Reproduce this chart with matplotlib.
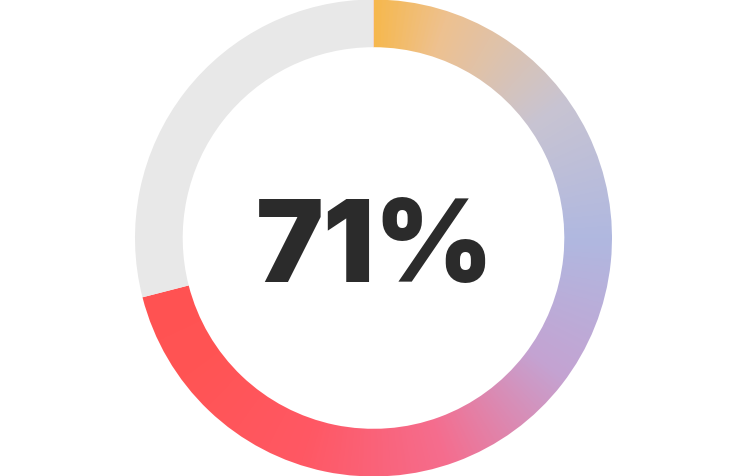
import numpy as np
import matplotlib
matplotlib.use("Agg")
from matplotlib import pyplot as plt
from matplotlib.colors import LinearSegmentedColormap

# progress value and colours
percent = 71
track_color = "#E8E8E8"
text_color = "#2B2B2B"

# conic gradient stops along the arc (fraction of full turn, clockwise from top)
stop_pos = [0.0, 0.05, 0.15, 0.25, 0.35, 0.45, 0.55, 0.65, 0.71]
stop_colors = ["#F6B84E", "#EEC190", "#C8C4D2", "#B0B8E0", "#C4A3D2",
               "#F56D8E", "#FF5864", "#FF5454", "#FF5252"]

fig = plt.figure(figsize=(7.5, 4.76), dpi=100)
fig.patch.set_facecolor("white")

# axes placed so the ring sits where it does in the reference
cx, cy, r = 373.5, 238.0, 238.5
ax = fig.add_axes([(cx - r) / 750, (476 - cy - r) / 476, 2 * r / 750, 2 * r / 476])

wedges, _ = ax.pie([percent, 100 - percent], startangle=90, counterclock=False,
                   colors=["none", track_color],
                   wedgeprops=dict(width=0.2, linewidth=0))

# gradient image clipped to the progress wedge
cmap = LinearSegmentedColormap.from_list(
    "prog", [(p / stop_pos[-1], c) for p, c in zip(stop_pos, stop_colors)])
n = 800
xs = np.linspace(-1, 1, n)
X, Y = np.meshgrid(xs, xs)
ang = (np.degrees(np.arctan2(X, Y)) % 360) / 360.0
frac = np.clip(ang / (percent / 100.0), 0, 1)
im = ax.imshow(frac, cmap=cmap, vmin=0, vmax=1, extent=[-1, 1, -1, 1],
               origin="lower", interpolation="bilinear")
im.set_clip_path(wedges[0])

ax.text(0.005, -0.183, f"{percent}%", ha="center", va="baseline",
        fontsize=82, fontweight=900, family=["Inter", "DejaVu Sans"],
        color=text_color)

ax.set_xlim(-1, 1)
ax.set_ylim(-1, 1)
ax.axis("off")

fig.savefig("out.png", dpi=100, facecolor="white")
